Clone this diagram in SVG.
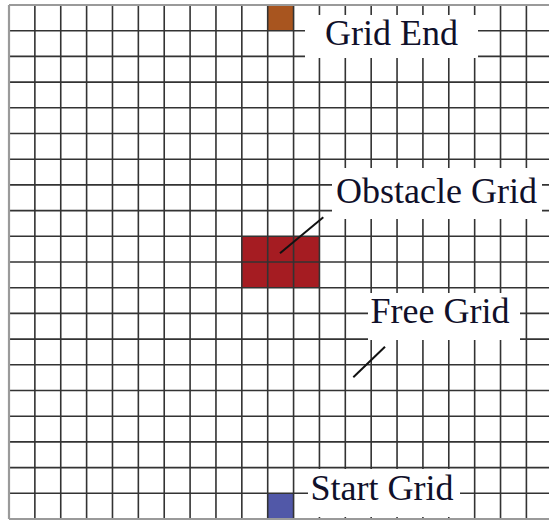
<svg xmlns="http://www.w3.org/2000/svg" width="549" height="522" viewBox="0 0 549 522">
<style>
.grid{stroke:#333333;stroke-width:1.6;fill:none}
.frame{stroke:#9a9a9a;stroke-width:2.2;fill:none}
.box{fill:#ffffff;stroke:none}
.lbl{font-family:"Liberation Serif","Times New Roman",serif;font-size:36px;fill:#10102a}
.lead{stroke:#111;stroke-width:2;fill:none}
</style>
<rect width="549" height="522" fill="#ffffff"/>
<g id="cells">
<rect id="end-cell" x="267.7" y="5" width="25.87" height="25.7" fill="#a8551f"/>
<rect id="obstacle-cells" x="241.83" y="236.3" width="77.61" height="51.4" fill="#a51c22"/>
<rect id="start-cell" x="267.7" y="493.3" width="25.87" height="25.7" fill="#5158a8"/>
</g>
<g id="grid">
<path class="grid" d="M34.87 5V519M60.74 5V519M86.61 5V519M112.48 5V519M138.35 5V519M164.22 5V519M190.09 5V519M215.96 5V519M241.83 5V519M267.7 5V519M293.57 5V519M319.44 5V519M345.31 5V519M371.18 5V519M397.05 5V519M422.92 5V519M448.79 5V519M474.66 5V519M500.53 5V519M526.4 5V519"/>
<path class="grid" d="M9 30.7H549M9 56.4H549M9 82.1H549M9 107.8H549M9 133.5H549M9 159.2H549M9 184.9H549M9 210.6H549M9 236.3H549M9 262H549M9 287.7H549M9 313.4H549M9 339.1H549M9 364.8H549M9 390.5H549M9 416.2H549M9 441.9H549M9 467.6H549M9 493.3H549"/>
<path class="frame" d="M9 5V519M9 5H549M9 519H549"/>
</g>
<g id="label-grid-end">
<rect class="box" x="305" y="15" width="173" height="43"/>
<text class="lbl" x="325" y="45">Grid End</text>
</g>
<g id="label-obstacle-grid">
<rect class="box" x="332" y="168" width="210" height="51"/>
<text class="lbl" x="336" y="203">Obstacle Grid</text>
</g>
<g id="label-free-grid">
<rect class="box" x="368" y="293" width="152" height="47"/>
<text class="lbl" x="370.5" y="323">Free Grid</text>
</g>
<g id="label-start-grid">
<rect class="box" x="308" y="469" width="152" height="48"/>
<text class="lbl" x="310.5" y="500">Start Grid</text>
</g>
<g id="connectors">
<line class="lead" x1="323.3" y1="217.3" x2="280" y2="253.3"/>
<line class="lead" x1="385" y1="346.7" x2="353.3" y2="377.3"/>
</g>
</svg>
